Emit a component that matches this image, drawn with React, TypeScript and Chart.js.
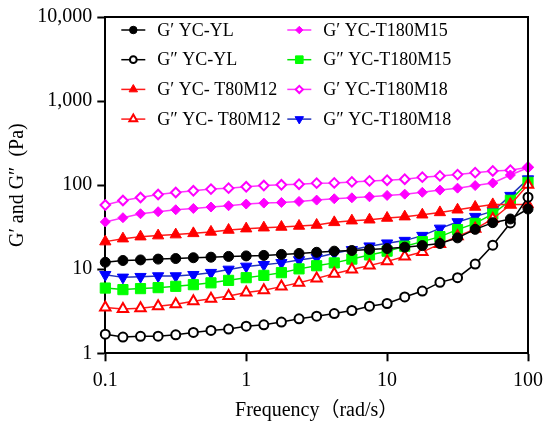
import { useEffect, useRef } from 'react';
import { Chart, registerables, type Plugin } from 'chart.js';
import { drawPoint } from 'chart.js/helpers';

Chart.register(...registerables);

// angular frequency (rad/s), 8 points per decade
const frequency = [
  0.1, 0.1334, 0.1778, 0.2371, 0.3162, 0.4217, 0.5623, 0.7499,
  1, 1.334, 1.778, 2.371, 3.162, 4.217, 5.623, 7.499,
  10, 13.34, 17.78, 23.71, 31.62, 42.17, 56.23, 74.99, 100,
];

const gPrimeYL = [12.1, 12.7, 12.9, 13.2, 13.4, 13.7, 13.9, 14.2, 14.4, 14.6, 15.0, 15.4, 15.9, 16.4, 16.7, 17.2, 17.6, 18.3, 19.1, 20.2, 23.6, 29.8, 35.8, 39.6, 52];
const gDoubleYL = [1.69, 1.56, 1.59, 1.6, 1.66, 1.77, 1.87, 1.94, 2.1, 2.18, 2.35, 2.57, 2.76, 2.97, 3.23, 3.63, 3.91, 4.68, 5.5, 6.98, 7.93, 11.5, 19.3, 35.5, 72];
const gPrimeT80M12 = [21.3, 23.1, 24.4, 25.1, 25.8, 26.7, 27.8, 29.3, 30.4, 31.2, 31.8, 32.7, 33.6, 36.1, 37.8, 38.8, 40.7, 42.2, 44.5, 47.4, 51, 55, 59, 59, 59];
const gDoubleT80M12 = [3.5, 3.37, 3.44, 3.63, 3.83, 4.16, 4.45, 4.8, 5.27, 5.61, 6.21, 6.92, 7.78, 8.85, 9.95, 11.1, 12.4, 14.2, 16.0, 20.0, 24.6, 30.2, 39.6, 58.5, 101];
const gPrimeT180M15 = [36.5, 41, 45.7, 48.3, 51, 52.8, 54.9, 56.9, 59.6, 61.2, 62.2, 64, 66.4, 68.9, 70.7, 72.7, 75.4, 78.2, 82.2, 87.3, 92.1, 98.9, 106, 132, 161];
const gDoubleT180M15 = [5.97, 5.72, 5.88, 6.04, 6.26, 6.55, 6.89, 7.37, 7.93, 8.45, 9.1, 10.1, 11.0, 11.9, 13.2, 14.8, 16.4, 18.8, 21.3, 24.4, 29.6, 35.1, 45.4, 66, 108];
const gPrimeT180M18 = [58, 65.7, 71.3, 77.4, 81.7, 85.7, 89.7, 92.1, 95.5, 98.9, 100.9, 102.7, 105.6, 106.4, 109.3, 112.4, 114.6, 117.8, 124.5, 128.9, 133.5, 140.9, 147.6, 150.6, 163];
const gDoubleT180M18 = [8.6, 8.0, 8.15, 8.3, 8.3, 8.6, 9.1, 9.95, 10.8, 11.3, 11.9, 12.9, 13.8, 15.5, 17.0, 18.8, 20.4, 21.9, 25.1, 30.6, 36.5, 42.2, 49, 75, 118];

const xTickValues = [0.1, 1, 10, 100];
const xTickLabels = ['0.1', '1', '10', '100'];
const yTickValues = [1, 10, 100, 1000, 10000];
const yTickLabels = ['1', '10', '100', '1,000', '10,000'];

const SERIF = '"Liberation Serif", "Times New Roman", "Noto Sans CJK SC", serif';

interface SeriesStyle {
  label: string;
  values: number[];
  color: string;
  line: string;
  style: 'circle' | 'triangle' | 'rect' | 'rectRot';
  rotation: number;
  radius: number;
  open: boolean;
}

const series: SeriesStyle[] = [
  { label: 'G′ YC-YL', values: gPrimeYL, color: '#000000', line: '#000000', style: 'circle', rotation: 0, radius: 5, open: false },
  { label: 'G″ YC-YL', values: gDoubleYL, color: '#000000', line: '#000000', style: 'circle', rotation: 0, radius: 4.5, open: true },
  { label: 'G′ YC- T80M12', values: gPrimeT80M12, color: '#ff0000', line: '#ff1a1a', style: 'triangle', rotation: 0, radius: 6.5, open: false },
  { label: 'G″ YC- T80M12', values: gDoubleT80M12, color: '#ff0000', line: '#ff1a1a', style: 'triangle', rotation: 0, radius: 6, open: true },
  { label: 'G′ YC-T180M15', values: gPrimeT180M15, color: '#ff00ff', line: '#ff33ff', style: 'rectRot', rotation: 0, radius: 5, open: false },
  { label: 'G″ YC-T180M15', values: gDoubleT180M15, color: '#00ff00', line: '#00e600', style: 'rect', rotation: 0, radius: 7.2, open: false },
  { label: 'G′ YC-T180M18', values: gPrimeT180M18, color: '#ff00ff', line: '#ff33ff', style: 'rectRot', rotation: 0, radius: 4.8, open: true },
  { label: 'G″ YC-T180M18', values: gDoubleT180M18, color: '#0000ff', line: '#2233bb', style: 'triangle', rotation: 180, radius: 6.5, open: false },
];

const frameBox: Plugin<'line'> = {
  id: 'frameBox',
  afterDraw(chart) {
    const { ctx, chartArea } = chart;
    ctx.save();
    ctx.strokeStyle = '#000';
    ctx.lineWidth = 2;
    ctx.beginPath();
    ctx.moveTo(chartArea.left - 1, chartArea.top);
    ctx.lineTo(chartArea.right, chartArea.top);
    ctx.lineTo(chartArea.right, chartArea.bottom + 1);
    ctx.stroke();
    ctx.restore();
  },
};

const insideLegend: Plugin<'line'> = {
  id: 'insideLegend',
  afterDraw(chart) {
    const { ctx, chartArea } = chart;
    ctx.save();
    series.forEach((s, i) => {
      const col = Math.floor(i / 4);
      const row = i % 4;
      const lx = chartArea.left + 16 + col * 166;
      const ly = chartArea.top + 13 + row * 29.7;
      ctx.strokeStyle = s.line;
      ctx.lineWidth = 1.5;
      ctx.beginPath();
      ctx.moveTo(lx, ly);
      ctx.lineTo(lx + 24, ly);
      ctx.stroke();
      ctx.fillStyle = s.open ? '#ffffff' : s.color;
      ctx.strokeStyle = s.color;
      ctx.lineWidth = s.open ? 2 : 1;
      drawPoint(ctx, { pointStyle: s.style, rotation: s.rotation, radius: s.radius * 0.75, borderWidth: ctx.lineWidth }, lx + 12, ly);
      ctx.fillStyle = '#000';
      ctx.font = `18px ${SERIF}`;
      ctx.textBaseline = 'middle';
      ctx.textAlign = 'left';
      ctx.fillText(s.label, lx + 36, ly + 1);
    });
    ctx.restore();
  },
};

export default function App() {
  const canvasRef = useRef<HTMLCanvasElement>(null);

  useEffect(() => {
    if (canvasRef.current === null) return undefined;
    Chart.defaults.font.family = SERIF;
    Chart.defaults.color = '#000';
    const chart = new Chart(canvasRef.current, {
      type: 'line',
      data: {
        datasets: series.map((s) => ({
          label: s.label,
          data: frequency.map((f, i) => ({ x: f, y: s.values[i] })),
          borderColor: s.line,
          borderWidth: 1.5,
          pointStyle: s.style,
          pointRotation: s.rotation,
          pointRadius: s.radius,
          pointBackgroundColor: s.open ? '#ffffff' : s.color,
          pointBorderColor: s.color,
          pointBorderWidth: s.open ? 2 : 1,
          tension: 0,
          clip: false as const,
        })),
      },
      options: {
        responsive: false,
        animation: false,
        layout: { padding: { top: 15, right: 22, left: 0, bottom: 0 } },
        plugins: {
          legend: { display: false },
          tooltip: { enabled: false },
        },
        scales: {
          x: {
            type: 'logarithmic',
            min: 0.1,
            max: 100,
            afterBuildTicks: (scale) => {
              scale.ticks = xTickValues.map((v) => ({ value: v }));
            },
            afterFit: (scale) => {
              scale.height = 73.7;
            },
            ticks: {
              font: { size: 20 },
              color: '#000',
              padding: 7,
              maxRotation: 0,
              autoSkip: false,
              callback: (value) => xTickLabels[xTickValues.indexOf(Number(value))] ?? '',
            },
            grid: { display: true, drawOnChartArea: false, drawTicks: true, tickLength: 8, tickWidth: 2, tickColor: '#000' },
            border: { display: true, color: '#000', width: 2 },
            title: { display: true, text: 'Frequency（rad/s）', font: { size: 20 }, color: '#000', padding: { top: 0, bottom: 4 } },
          },
          y: {
            type: 'logarithmic',
            min: 1,
            max: 10000,
            afterBuildTicks: (scale) => {
              scale.ticks = yTickValues.map((v) => ({ value: v }));
            },
            afterFit: (scale) => {
              scale.width = 105.3;
            },
            ticks: {
              font: { size: 20 },
              color: '#000',
              padding: 5,
              autoSkip: false,
              callback: (value) => yTickLabels[yTickValues.indexOf(Number(value))] ?? '',
            },
            grid: { display: true, drawOnChartArea: false, drawTicks: true, tickLength: 8, tickWidth: 2, tickColor: '#000' },
            border: { display: true, color: '#000', width: 2 },
            title: { display: true, text: 'G′ and G″  (Pa)', font: { size: 20 }, color: '#000', padding: { top: 6, bottom: 0 } },
          },
        },
      },
      plugins: [frameBox, insideLegend],
    });
    return () => { chart.destroy(); };
  }, []);

  return (
    <div style={{ position: 'absolute', left: 0, top: 0, width: 550, height: 427, background: '#fff' }}>
      <canvas ref={canvasRef} width={550} height={427} />
    </div>
  );
}
